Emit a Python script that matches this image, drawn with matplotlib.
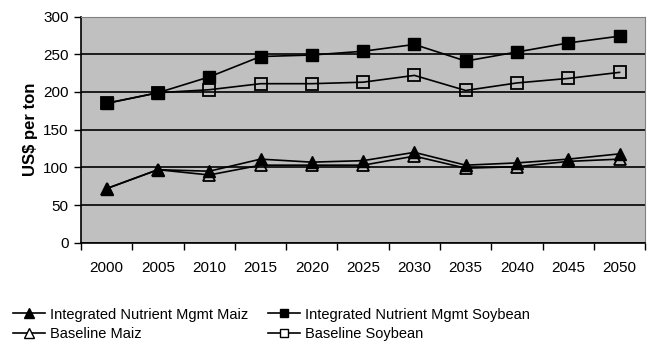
import matplotlib
matplotlib.use("Agg")
import matplotlib.pyplot as plt
from matplotlib.lines import Line2D

plt.rcParams['font.family'] = ['Liberation Sans', 'DejaVu Sans']

years = ["2000", "2005", "2010", "2015", "2020", "2025", "2030", "2035", "2040", "2045", "2050"]
inm_maiz = [72, 97, 95, 111, 107, 109, 120, 103, 106, 111, 118]
base_maiz = [72, 97, 90, 103, 103, 103, 115, 99, 101, 108, 111]
inm_soy = [185, 199, 220, 247, 249, 254, 263, 241, 253, 265, 274]
base_soy = [185, 199, 203, 211, 211, 213, 222, 202, 212, 218, 226]

fig = plt.figure(figsize=(6.59, 3.52), dpi=100)
ax = fig.add_axes([0.123, 0.310, 0.856, 0.643])
ax.set_facecolor('#c0c0c0')
x = list(range(len(years)))

ms = 9
ax.plot(x, base_soy, color='black', lw=1.2, marker='s', ms=ms, mfc='none', mec='black', mew=1.3, zorder=3)
ax.plot(x, inm_soy, color='black', lw=1.2, marker='s', ms=ms, mfc='black', mec='black', zorder=4)
ax.plot(x, base_maiz, color='black', lw=1.2, marker='^', ms=ms, mfc='none', mec='black', mew=1.3, zorder=3)
ax.plot(x, inm_maiz, color='black', lw=1.2, marker='^', ms=ms, mfc='black', mec='black', zorder=4)

ax.set_xlim(-0.5, len(years) - 0.5)
ax.set_ylim(0, 300)
ax.set_yticks(range(0, 301, 50))
ax.yaxis.grid(True, color='black', lw=1.2)
ax.set_axisbelow(True)
ax.set_xticks(x)
ax.set_xticklabels(years, fontsize=11)
ax.tick_params(axis='x', which='major', length=0, pad=13)
ax.set_xticks([i - 0.5 for i in range(len(years) + 1)], minor=True)
ax.tick_params(axis='x', which='minor', length=5, direction='out', width=1)
ax.tick_params(axis='y', length=5, direction='out', labelsize=11, width=1, pad=4)
ax.set_ylabel('US$ per ton', fontsize=12, fontweight='bold', labelpad=4)
for s in ['top', 'right']:
    ax.spines[s].set_color('#808080')
for s in ['left', 'bottom']:
    ax.spines[s].set_color('black')
    ax.spines[s].set_linewidth(1.2)

handles = [
    Line2D([], [], color='black', lw=1.2, marker='^', ms=7, mfc='black', mec='black'),
    Line2D([], [], color='black', lw=1.2, marker='^', ms=7, mfc='white', mec='black'),
    Line2D([], [], color='black', lw=1.2, marker='s', ms=6, mfc='black', mec='black'),
    Line2D([], [], color='black', lw=1.2, marker='s', ms=6, mfc='white', mec='black'),
]
labels = ['Integrated Nutrient Mgmt Maiz', 'Baseline Maiz',
          'Integrated Nutrient Mgmt Soybean', 'Baseline Soybean']
fig.legend(handles, labels, ncol=2, loc='lower left', bbox_to_anchor=(0.0, -0.005),
           frameon=False, fontsize=10.5, handlelength=2.2, handletextpad=0.3,
           columnspacing=1.4, labelspacing=0.35)

fig.savefig('out.png', dpi=100, facecolor='white')
